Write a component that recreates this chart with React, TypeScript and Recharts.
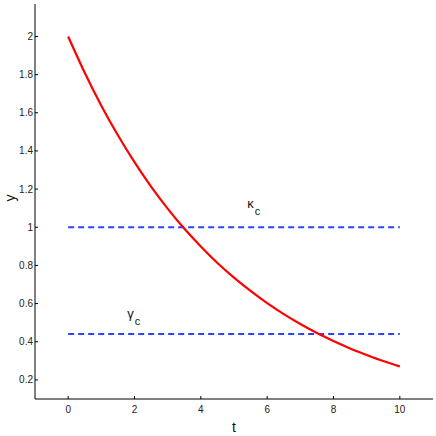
import { LineChart, Line, XAxis, YAxis, ReferenceDot } from 'recharts';

// valeurs (pas de 0.5 en t)
const T = [0, 0.5, 1, 1.5, 2, 2.5, 3, 3.5, 4, 4.5, 5, 5.5, 6, 6.5, 7, 7.5, 8, 8.5, 9, 9.5, 10];
const Y = [2.0, 1.81, 1.637, 1.482, 1.341, 1.213, 1.098, 0.993, 0.899, 0.813, 0.736, 0.666, 0.602, 0.545, 0.493, 0.446, 0.404, 0.365, 0.331, 0.299, 0.271];
const KAPPA_C = 1.0;
const GAMMA_C = 0.44;

const X_TICKS = [0, 2, 4, 6, 8, 10];
const Y_TICKS = [0.2, 0.4, 0.6, 0.8, 1, 1.2, 1.4, 1.6, 1.8, 2];

// positions des étiquettes κc / γc (coordonnées des données)
const KAPPA_LABEL = { t: 5.4, y: 1.12 };
const GAMMA_LABEL = { t: 1.78, y: 0.545 };

const rows = T.map((t, i) => ({ t, y: Y[i], kappa: KAPPA_C, gamma: GAMMA_C }));

const FONT = '"Liberation Sans", Arial, sans-serif';
const INK = '#000';
const FRAME = '#8a8a8a';
const RED = '#ff0000';
const BLUE = '#2a45ff';

const tickStyle = { fontSize: 10, fill: '#222', fontFamily: FONT };

function SubLabel({ cx, cy, main, sub }: { cx?: number; cy?: number; main: string; sub: string }) {
  if (cx == null || cy == null) return null;
  return (
    <text x={cx} y={cy} fontFamily={FONT} fontSize={13} fill="#111" dominantBaseline="middle">
      {main}
      <tspan fontSize={11} dx={1} dy={8}>{sub}</tspan>
    </text>
  );
}

export default function App() {
  return (
    <div style={{ position: 'absolute', left: 0, top: 0, background: '#fff' }}>
      <LineChart width={436} height={436} data={rows} margin={{ top: 4, right: 3, bottom: 0, left: 0 }}>
        <XAxis
          dataKey="t"
          type="number"
          domain={[-1, 11]}
          ticks={X_TICKS}
          allowDataOverflow
          height={37}
          tick={tickStyle}
          tickSize={-3}
          tickMargin={10}
          axisLine={{ stroke: INK }}
          tickLine={{ stroke: INK }}
          label={{ value: 't', position: 'insideBottom', offset: 4, fontSize: 14, fill: '#111', fontFamily: FONT }}
        />
        <XAxis
          xAxisId="top"
          orientation="top"
          dataKey="t"
          type="number"
          domain={[-1, 11]}
          ticks={X_TICKS}
          allowDataOverflow
          height={0}
          tick={false}
          tickSize={-3}
          axisLine={{ stroke: FRAME }}
          tickLine={{ stroke: INK }}
        />
        <YAxis
          type="number"
          domain={[0.1, 2.17]}
          ticks={Y_TICKS}
          allowDataOverflow
          width={35}
          tick={tickStyle}
          tickSize={-3}
          tickMargin={5}
          axisLine={{ stroke: INK }}
          tickLine={{ stroke: INK }}
          label={{ value: 'y', angle: -90, position: 'insideLeft', offset: 10, fontSize: 14, fill: '#111', fontFamily: FONT }}
        />
        <YAxis
          yAxisId="right"
          orientation="right"
          type="number"
          domain={[0.1, 2.17]}
          ticks={Y_TICKS}
          allowDataOverflow
          width={0}
          tick={false}
          tickSize={-3}
          axisLine={{ stroke: FRAME }}
          tickLine={{ stroke: INK }}
        />
        <Line dataKey="kappa" stroke={BLUE} strokeWidth={2} strokeDasharray="6 4" dot={false} isAnimationActive={false} />
        <Line dataKey="gamma" stroke={BLUE} strokeWidth={2} strokeDasharray="6 4" dot={false} isAnimationActive={false} />
        <Line dataKey="y" type="monotone" stroke={RED} strokeWidth={2.2} dot={false} isAnimationActive={false} />
        <ReferenceDot x={KAPPA_LABEL.t} y={KAPPA_LABEL.y} r={0} shape={(p: any) => <SubLabel cx={p.cx} cy={p.cy} main="κ" sub="c" />} />
        <ReferenceDot x={GAMMA_LABEL.t} y={GAMMA_LABEL.y} r={0} shape={(p: any) => <SubLabel cx={p.cx} cy={p.cy} main="γ" sub="c" />} />
      </LineChart>
    </div>
  );
}
